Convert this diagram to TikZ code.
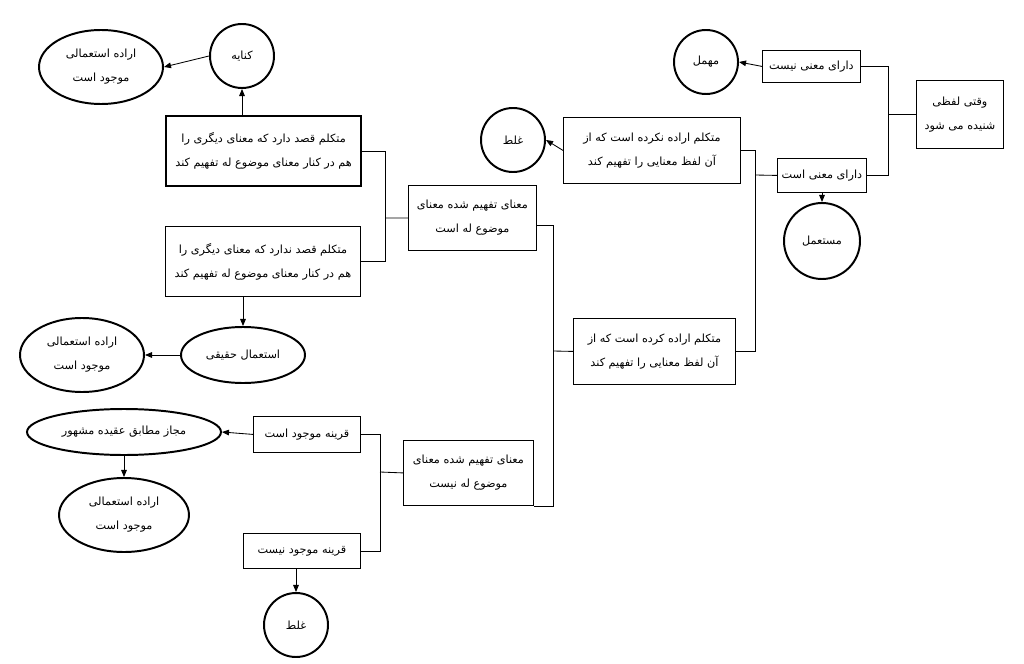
\documentclass[tikz,border=0pt]{standalone}
\usepackage{fontspec}
\newfontfamily\arfont[Script=Arabic]{DejaVu Sans}
\TeXXeTstate=1
\newcommand{\fa}[1]{\beginR #1\endR}
\usetikzlibrary{shapes.geometric,arrows.meta}
\begin{document}
\begin{tikzpicture}[x=0.025cm,y=-0.025cm,
  every node/.style={font=\arfont\fontsize{8}{17}\selectfont,align=center,inner sep=0pt},
  box/.style={draw,line width=0.6pt,anchor=north west},
  circ/.style={draw,circle,line width=1.4pt,minimum size=64*0.025cm},
  ell/.style={draw,ellipse,line width=1.4pt},
  ln/.style={line width=0.6pt},
  ar/.style={line width=0.6pt,-{Triangle[length=5pt,width=4pt]}}]
\useasboundingbox (0,0) rectangle (1024,663);
% right part
\node[box,minimum width=87*0.025cm,minimum height=68*0.025cm] (root) at (916,80) {\fa{وقتی لفظی}\\\fa{شنیده می شود}};
\node[box,minimum width=98*0.025cm,minimum height=32*0.025cm] (nomean) at (762,50) {\fa{دارای معنی نیست}};
\node[circ] (mohmal) at (706,62) {\fa{مهمل}};
\node[box,minimum width=89*0.025cm,minimum height=34*0.025cm] (hasmean) at (777,158) {\fa{دارای معنی است}};
\node[circ,minimum size=76*0.025cm] (mostamal) at (822,241) {\fa{مستعمل}};
\node[box,minimum width=177*0.025cm,minimum height=66*0.025cm] (notint) at (563,117) {\fa{متکلم اراده نکرده است که از}\\\fa{آن لفظ معنایی را تفهیم کند}};
\node[circ] (ghalat1) at (513,140) {\fa{غلط}};
\node[box,minimum width=162*0.025cm,minimum height=66*0.025cm] (int) at (573,318) {\fa{متکلم اراده کرده است که از}\\\fa{آن لفظ معنایی را تفهیم کند}};
\node[box,minimum width=128*0.025cm,minimum height=65*0.025cm] (mowzu) at (408,185) {\fa{معنای تفهیم شده معنای}\\\fa{موضوع له است}};
\node[box,minimum width=130*0.025cm,minimum height=65*0.025cm] (namowzu) at (403,440) {\fa{معنای تفهیم شده معنای}\\\fa{موضوع له نیست}};
% left upper
\node[box,line width=1.6pt,minimum width=195*0.025cm,minimum height=70*0.025cm] (qasd) at (165,115) {\fa{متکلم قصد دارد که معنای دیگری را}\\\fa{هم در کنار معنای موضوع له تفهیم کند}};
\node[box,minimum width=195*0.025cm,minimum height=70*0.025cm] (noqasd) at (165,226) {\fa{متکلم قصد ندارد که معنای دیگری را}\\\fa{هم در کنار معنای موضوع له تفهیم کند}};
\node[circ] (kenaye) at (242,56) {\fa{کنایه}};
\node[ell,minimum width=124*0.025cm,minimum height=74*0.025cm] (e1) at (101,67) {\fa{اراده استعمالی}\\\fa{موجود است}};
\node[ell,minimum width=124*0.025cm,minimum height=56*0.025cm] (haqiqi) at (243,355) {\fa{استعمال حقیقی}};
\node[ell,minimum width=124*0.025cm,minimum height=74*0.025cm] (e2) at (82,355) {\fa{اراده استعمالی}\\\fa{موجود است}};
% left lower
\node[box,minimum width=107*0.025cm,minimum height=36*0.025cm] (qarine) at (253,416) {\fa{قرینه موجود است}};
\node[box,minimum width=117*0.025cm,minimum height=35*0.025cm] (noqarine) at (243,533) {\fa{قرینه موجود نیست}};
\node[ell,minimum width=194*0.025cm,minimum height=46*0.025cm] (majaz) at (124,432) {\fa{مجاز مطابق عقیده مشهور}};
\node[ell,minimum width=130*0.025cm,minimum height=74*0.025cm] (e3) at (124,515) {\fa{اراده استعمالی}\\\fa{موجود است}};
\node[circ] (ghalat2) at (296,625) {\fa{غلط}};
% coordinates
\coordinate (j1) at (888,114);
\coordinate (j2) at (755,175);
\coordinate (j3) at (553,351);
\coordinate (j4) at (385,218);
\coordinate (j5) at (380,472);
% connectors
\draw[ln] (root.west |- j1) -- (j1);
\draw[ln] (nomean.east) -- (nomean.east -| j1) |- (hasmean.east);
\draw[ar] (nomean.west) -- (mohmal.east);
\draw[ar] (hasmean.south -| mostamal) -- (mostamal.north);
\draw[ln] (hasmean.west) -- (j2);
\draw[ln] (notint.east) -- (notint.east -| j2) |- (int.east);
\draw[ar] (notint.west) -- (ghalat1.east);
\draw[ln] (int.west) -- (j3);
\draw[ln] (mowzu.south east) ++(0,-25) -- ++(17,0) |- ([yshift=0.025cm*-33]namowzu.east);
\draw[ln] (mowzu.west) -- (j4);
\draw[ln] (qasd.east) -- (qasd.east -| j4) |- (noqasd.east);
\draw[ar] (qasd.north -| kenaye) -- (kenaye.south);
\draw[ar] (kenaye.west) -- (e1.east);
\draw[ar] (noqasd.south -| haqiqi) -- (haqiqi.north);
\draw[ar] (haqiqi.west) -- (e2.east);
\draw[ln] (namowzu.west) -- (j5);
\draw[ln] (qarine.east) -- (qarine.east -| j5) |- (noqarine.east);
\draw[ar] (qarine.west) -- (majaz.east);
\draw[ar] (majaz.south) -- (e3.north);
\draw[ar] (noqarine.south -| ghalat2) -- (ghalat2.north);
\end{tikzpicture}
\end{document}
